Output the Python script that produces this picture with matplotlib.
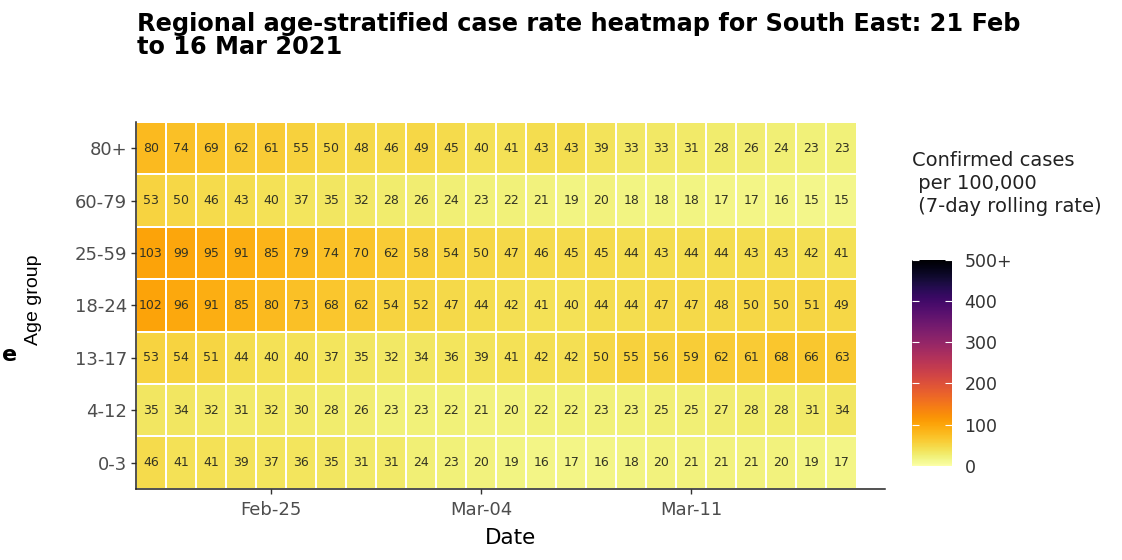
import numpy as np
import pandas as pd
import matplotlib
matplotlib.use("Agg")
import matplotlib.pyplot as plt

plt.rcParams['font.family'] = ['DejaVu Sans']

# age groups, top row first as in the chart
age_groups = ["80+", "60-79", "25-59", "18-24", "13-17", "4-12", "0-3"]
dates = pd.date_range("2021-02-21", "2021-03-16", freq="D")

rate_80p = [80, 74, 69, 62, 61, 55, 50, 48, 46, 49, 45, 40, 41, 43, 43, 39, 33, 33, 31, 28, 26, 24, 23, 23]
rate_60_79 = [53, 50, 46, 43, 40, 37, 35, 32, 28, 26, 24, 23, 22, 21, 19, 20, 18, 18, 18, 17, 17, 16, 15, 15]
rate_25_59 = [103, 99, 95, 91, 85, 79, 74, 70, 62, 58, 54, 50, 47, 46, 45, 45, 44, 43, 44, 44, 43, 43, 42, 41]
rate_18_24 = [102, 96, 91, 85, 80, 73, 68, 62, 54, 52, 47, 44, 42, 41, 40, 44, 44, 47, 47, 48, 50, 50, 51, 49]
rate_13_17 = [53, 54, 51, 44, 40, 40, 37, 35, 32, 34, 36, 39, 41, 42, 42, 50, 55, 56, 59, 62, 61, 68, 66, 63]
rate_4_12 = [35, 34, 32, 31, 32, 30, 28, 26, 23, 23, 22, 21, 20, 22, 22, 23, 23, 25, 25, 27, 28, 28, 31, 34]
rate_0_3 = [46, 41, 41, 39, 37, 36, 35, 31, 31, 24, 23, 20, 19, 16, 17, 16, 18, 20, 21, 21, 21, 20, 19, 17]

rates = np.array([rate_80p, rate_60_79, rate_25_59, rate_18_24, rate_13_17, rate_4_12, rate_0_3])
tick_dates = ["2021-02-25", "2021-03-04", "2021-03-11"]

fig = plt.figure(figsize=(11.22, 5.6), dpi=100)
ax = fig.add_axes([0.1212, 0.127, 0.6676, 0.655])

n_rows, n_cols = rates.shape
x_edges = np.arange(n_cols + 1) - 0.5
y_edges = np.arange(n_rows + 1) - 0.5
mesh = ax.pcolormesh(x_edges, y_edges, rates[::-1], cmap="inferno_r", vmin=0, vmax=500,
                     edgecolor="white", linewidth=0.3)

for r in range(n_rows):
    for c in range(n_cols):
        ax.text(c, n_rows - 1 - r, str(rates[r, c]), ha="center", va="center",
                fontsize=9, color="#333322")

ax.set_xlim(-0.5, n_cols + 0.45)
ax.set_ylim(-0.5, n_rows - 0.5)
ax.set_yticks(range(n_rows))
ax.set_yticklabels(age_groups[::-1])
tick_idx = [list(dates).index(pd.Timestamp(d)) for d in tick_dates]
ax.set_xticks(tick_idx)
ax.set_xticklabels([pd.Timestamp(d).strftime("%b-%d") for d in tick_dates])
ax.tick_params(axis="both", labelsize=13, colors="#333333", length=3.5, width=1,
               labelcolor="#4d4d4d")
ax.tick_params(axis="x", pad=5)
ax.tick_params(axis="y", pad=3)
for side in ["top", "right"]:
    ax.spines[side].set_visible(False)
for side in ["left", "bottom"]:
    ax.spines[side].set_linewidth(1.1)
    ax.spines[side].set_color("#222222")

ax.set_xlabel("Date", fontsize=15.5, labelpad=7)
fig.text(33 / 1122, 1 - 300 / 560, "Age group", rotation=90, ha="center", va="center",
         fontsize=14, family="Liberation Sans")

fig.text(0.1221, 0.978, "Regional age-stratified case rate heatmap for South East: 21 Feb\nto 16 Mar 2021",
         fontsize=17.3, fontweight="bold", ha="left", va="top", linespacing=0.95)

# colorbar
cax = fig.add_axes([912 / 1122, 0.168, 40 / 1122, 0.368])
cb = fig.colorbar(mesh, cax=cax, ticks=[0, 100, 200, 300, 400, 500])
cb.ax.set_yticklabels(["0", "100", "200", "300", "400", "500+"])
cb.outline.set_visible(False)
cb.ax.tick_params(labelsize=12.5, colors="white", labelcolor="#333333", length=5, width=0.8,
                  direction="in", left=True, right=True, pad=9)
fig.text(912 / 1122, 0.73, "Confirmed cases\n per 100,000\n (7-day rolling rate)", fontsize=14,
         ha="left", va="top", color="#222222", linespacing=1.25)

# cropped letter at the left edge of the source image
fig.text(0.002, 1 - 355 / 560, "e", fontsize=16, fontweight="bold", ha="left", va="center")

fig.savefig("out.png", dpi=100)
